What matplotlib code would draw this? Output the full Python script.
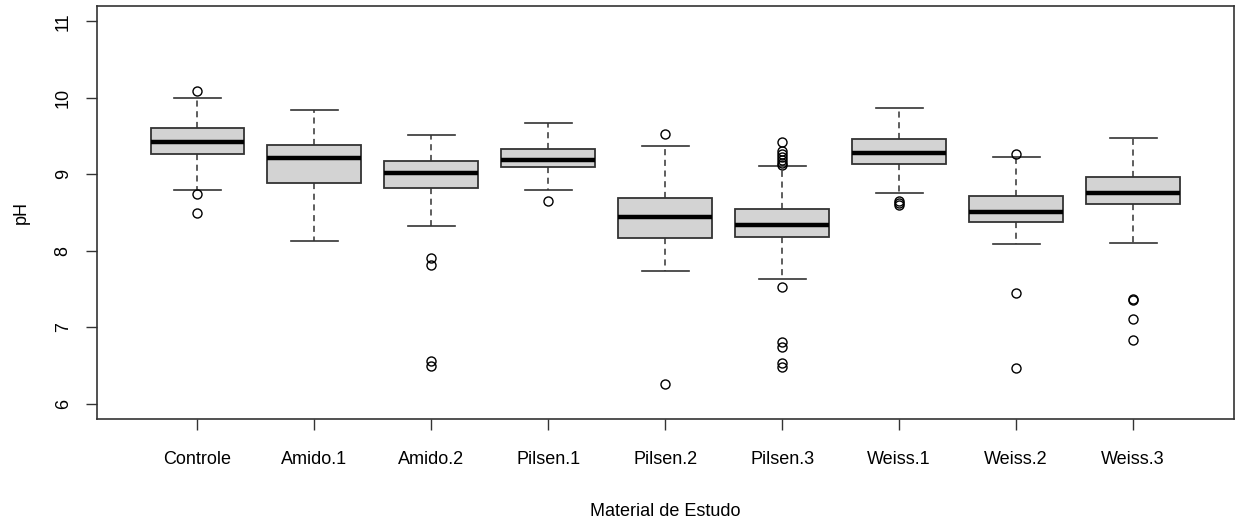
import matplotlib
matplotlib.use("Agg")
import matplotlib.pyplot as plt

categories = ["Controle", "Amido.1", "Amido.2", "Pilsen.1", "Pilsen.2",
              "Pilsen.3", "Weiss.1", "Weiss.2", "Weiss.3"]
whisker_low = [8.79, 8.125, 8.32, 8.79, 7.74, 7.635, 8.756, 8.087, 8.104]
q1 = [9.26, 8.88, 8.825, 9.088, 8.16, 8.175, 9.14, 8.37, 8.615]
medians = [9.42, 9.215, 9.01, 9.19, 8.44, 8.336, 9.28, 8.51, 8.756]
q3 = [9.60, 9.385, 9.175, 9.333, 8.685, 8.545, 9.46, 8.72, 8.966]
whisker_high = [10.0, 9.845, 9.51, 9.67, 9.367, 9.105, 9.862, 9.228, 9.478]
outliers = [
    [10.09, 8.74, 8.49],
    [],
    [7.90, 7.815, 6.555, 6.49],
    [8.65],
    [9.525, 6.26],
    [9.425, 9.30, 9.26, 9.22, 9.18, 9.15, 9.12, 7.53, 6.81, 6.74, 6.525, 6.48],
    [8.645, 8.62, 8.60],
    [9.27, 7.44, 6.47],
    [7.37, 7.35, 7.106, 6.826],
]
y_ticks = [6, 7, 8, 9, 10, 11]

plt.rcParams['font.family'] = ['Liberation Sans Narrow', 'Liberation Sans', 'DejaVu Sans']

fig = plt.figure(figsize=(12.35, 5.21), dpi=100)
ax = fig.add_axes([0.0783, 0.196, 0.9207, 0.7925])

stats = []
for i, name in enumerate(categories):
    stats.append(dict(label=name, med=medians[i], q1=q1[i], q3=q3[i],
                      whislo=whisker_low[i], whishi=whisker_high[i],
                      fliers=outliers[i]))

edge = "#333333"
ax.bxp(stats, positions=range(1, len(categories) + 1), widths=0.8,
       patch_artist=True, showfliers=True,
       boxprops=dict(facecolor="#D3D3D3", edgecolor=edge, linewidth=1.3),
       medianprops=dict(color="black", linewidth=3.2, solid_capstyle="butt"),
       whiskerprops=dict(color=edge, linewidth=1.1, linestyle=(0, (4, 3))),
       capprops=dict(color=edge, linewidth=1.2),
       capwidths=0.4,
       flierprops=dict(marker="o", markerfacecolor="none",
                       markeredgecolor="black", markersize=6.5,
                       markeredgewidth=1.0))

ax.set_xlim(0.14, 9.86)
ax.set_ylim(5.8, 11.2)
ax.set_yticks(y_ticks)
ax.set_yticklabels([str(t) for t in y_ticks], rotation=90, va="center", fontsize=13)
ax.set_xticks(range(1, len(categories) + 1))
ax.set_xticklabels(categories, fontsize=13)
ax.tick_params(axis="both", length=8, width=1, color="#333333", direction="out")
ax.tick_params(axis="x", pad=15)
ax.tick_params(axis="y", pad=10)
for s in ax.spines.values():
    s.set_color("#333333")
    s.set_linewidth(1.2)

ax.set_xlabel("Material de Estudo", fontsize=13, labelpad=25.5)
ax.set_ylabel("pH", fontsize=13, labelpad=18)

fig.savefig("out.png", dpi=100)
